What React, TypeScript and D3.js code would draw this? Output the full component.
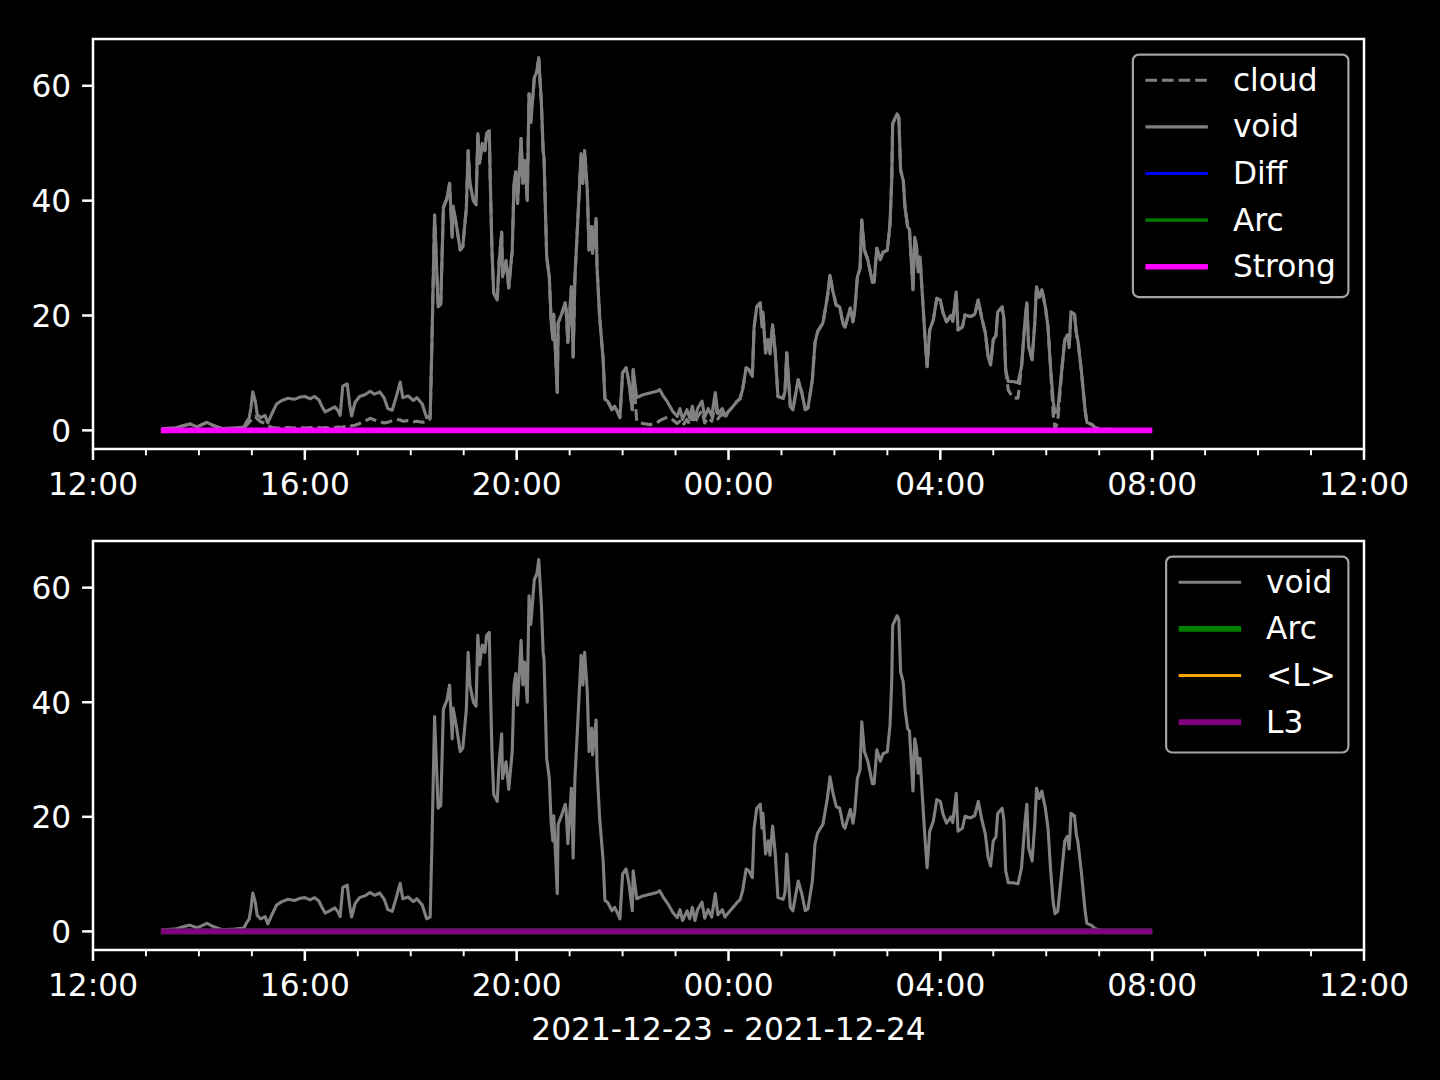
import { useEffect, useRef } from 'react'
import * as d3 from 'd3'

const WIDTH = 1440
const HEIGHT = 1080
const FONT = '"DejaVu Sans", sans-serif'
const FS = 31.25
const LEFT = 93
const RIGHT = 1364
const TICK_MAJOR = 10.9
const TICK_MINOR = 6.25
const PAD = 10.9

const START = Date.UTC(2021, 11, 23, 12)
const X_DOMAIN = [new Date(START), new Date(START + 24 * 3600e3)]
const X_LABEL = '2021-12-23 - 2021-12-24'
const Y_TICKS = [0, 20, 40, 60]

// minutes after 2021-12-23 12:00
const MINUTES = [
  80, 93, 102, 110, 118, 129, 137, 146, 161, 171, 174, 177, 179, 181, 184, 186, 190, 195, 198, 203,
  208, 214, 221, 228, 235, 240, 246, 251, 256, 259, 263, 268, 274, 278, 280, 283, 288, 291, 293, 297,
  302, 308, 314, 319, 325, 330, 334, 339, 344, 348, 351, 357, 363, 367, 373, 378, 382, 384, 387, 391,
  394, 397, 401, 404, 407, 408, 412, 416, 419, 423, 425, 427, 431, 434, 436, 438, 441, 444, 446, 449,
  450, 452, 454, 458, 460, 463, 464, 468, 471, 475, 477, 479, 481, 485, 487, 489, 492, 494, 496, 500,
  503, 505, 508, 510, 511, 514, 517, 519, 521, 522, 526, 527, 531, 535, 536, 538, 542, 544, 546, 548,
  553, 555, 557, 560, 562, 565, 566, 570, 571, 574, 578, 580, 583, 588, 591, 594, 597, 600, 604, 607,
  611, 612, 616, 623, 631, 639, 642, 646, 651, 657, 662, 665, 668, 673, 676, 679, 682, 685, 690, 693,
  697, 701, 705, 708, 713, 716, 719, 724, 730, 733, 736, 740, 743, 747, 749, 752, 756, 758, 759, 762,
  765, 767, 770, 773, 776, 782, 784, 786, 790, 793, 795, 799, 803, 807, 810, 815, 818, 821, 827, 832,
  835, 838, 842, 846, 850, 852, 858, 861, 863, 866, 869, 871, 874, 878, 883, 885, 888, 892, 895, 900,
  903, 905, 906, 911, 913, 915, 918, 920, 923, 925, 929, 931, 933, 935, 937, 940, 943, 945, 948, 952,
  956, 960, 963, 967, 972, 974, 978, 980, 985, 988, 994, 999, 1003, 1007, 1011, 1014, 1017, 1020, 1023, 1025,
  1030, 1032, 1034, 1037, 1042, 1048, 1052, 1056, 1058, 1060, 1064, 1067, 1069, 1072, 1075, 1079, 1082, 1085, 1088, 1090,
  1093, 1098, 1101, 1104, 1106, 1108, 1112, 1114, 1116, 1120, 1124, 1126, 1132, 1135, 1141, 1197,
]

const VOID = [
  0.3, 0.4, 0.8, 1.1, 0.6, 1.4, 0.8, 0.3, 0.4, 0.6, 1.5, 2.2, 4.0, 6.7, 5.0, 2.8, 2.2, 2.6, 1.3, 3.0,
  4.6, 5.2, 5.6, 5.4, 5.8, 5.9, 5.5, 5.9, 5.3, 4.3, 3.2, 3.6, 4.1, 3.3, 2.6, 7.7, 8.1, 4.3, 2.5, 4.9,
  5.9, 6.2, 6.8, 6.3, 6.7, 5.6, 3.8, 3.5, 6.1, 8.4, 5.7, 6.0, 5.2, 5.7, 4.6, 2.2, 2.5, 15.3, 37.5, 21.5,
  22.0, 38.8, 40.4, 43.0, 33.6, 39.0, 35.5, 31.4, 32.0, 38.8, 48.7, 43.0, 40.0, 39.3, 51.7, 46.5, 50.0, 48.7, 51.7, 52.2,
  44.0, 31.4, 23.9, 22.7, 29.1, 34.5, 26.7, 29.6, 24.8, 31.4, 43.0, 45.0, 39.5, 50.8, 43.0, 47.0, 40.0, 58.6, 53.6, 61.4,
  62.5, 64.9, 57.0, 48.7, 47.5, 30.2, 26.7, 19.2, 15.8, 20.2, 6.6, 18.7, 20.3, 22.2, 21.2, 15.3, 25.0, 12.8, 26.7, 32.6,
  48.2, 43.0, 48.7, 41.9, 31.4, 35.5, 30.8, 36.9, 28.6, 19.8, 12.3, 5.4, 5.1, 3.6, 4.2, 3.3, 2.2, 10.0, 10.9, 8.6,
  3.6, 10.6, 5.7, 6.2, 6.5, 6.8, 7.1, 6.0, 4.9, 3.3, 2.4, 3.8, 1.9, 3.6, 2.2, 4.2, 1.9, 3.8, 5.1, 2.3,
  3.8, 2.5, 6.6, 2.9, 3.8, 2.5, 3.1, 4.0, 5.1, 5.5, 7.1, 10.9, 10.6, 9.4, 18.0, 21.5, 22.2, 18.0, 20.6, 13.5,
  15.8, 13.3, 18.4, 13.5, 5.9, 5.6, 6.8, 13.5, 4.2, 3.6, 5.4, 8.8, 6.6, 3.6, 3.9, 8.8, 15.3, 17.2, 18.7, 23.2,
  27.0, 24.4, 21.8, 21.5, 18.4, 18.0, 21.3, 18.9, 20.8, 26.7, 28.2, 36.6, 31.4, 29.6, 25.8, 25.8, 31.7, 29.7, 31.0, 31.4,
  36.0, 44.0, 53.4, 55.1, 54.4, 45.3, 43.5, 38.8, 35.4, 35.0, 24.5, 33.6, 32.0, 27.6, 30.2, 22.7, 15.3, 11.1, 17.5, 19.2,
  23.0, 22.7, 20.5, 18.9, 20.0, 19.0, 24.1, 17.5, 18.0, 20.1, 19.8, 20.2, 22.7, 19.5, 17.0, 13.0, 11.4, 15.8, 16.5, 20.6,
  21.5, 19.5, 10.6, 8.5, 8.5, 8.3, 11.1, 19.2, 22.2, 14.6, 12.3, 18.7, 25.0, 23.2, 24.5, 21.5, 18.0, 10.6, 4.9, 3.1,
  3.5, 11.1, 15.8, 16.6, 14.4, 20.6, 20.2, 17.0, 15.5, 10.0, 3.6, 1.4, 1.0, 0.5, 0.2, 0.0,
]

const CLOUD = [
  0.3, 0.4, 0.8, 1.1, 0.6, 1.4, 0.8, 0.3, 0.4, 0.5, 0.9, 1.4, 1.8, 2.2, 2.4, 2.0, 1.5, 1.2, 0.8, 0.5,
  0.4, 0.4, 0.5, 0.4, 0.5, 0.4, 0.5, 0.4, 0.5, 0.4, 0.5, 0.4, 0.5, 0.6, 0.5, 0.6, 0.7, 0.6, 0.8, 0.9,
  1.2, 1.6, 2.1, 1.8, 1.5, 1.3, 1.4, 1.7, 1.9, 1.8, 1.6, 1.7, 1.5, 1.6, 1.4, 1.5, 2.0, 15.3, 37.5, 21.5,
  22.0, 38.8, 40.4, 43.0, 33.6, 39.0, 35.5, 31.4, 32.0, 38.8, 48.7, 43.0, 40.0, 39.3, 51.7, 46.5, 50.0, 48.7, 51.7, 52.2,
  44.0, 31.4, 23.9, 22.7, 29.1, 34.5, 26.7, 29.6, 24.8, 31.4, 43.0, 45.0, 39.5, 50.8, 43.0, 47.0, 40.0, 58.6, 53.6, 61.4,
  62.5, 64.9, 57.0, 48.7, 47.5, 30.2, 26.7, 19.2, 15.8, 20.2, 6.6, 18.7, 20.3, 22.2, 21.2, 15.3, 25.0, 12.8, 26.7, 32.6,
  48.2, 43.0, 48.7, 41.9, 31.4, 35.5, 30.8, 36.9, 28.6, 19.8, 12.3, 5.4, 5.1, 3.6, 4.2, 3.3, 2.2, 10.0, 10.9, 8.6,
  3.6, 10.6, 1.6, 1.2, 1.0, 1.3, 1.7, 2.0, 2.3, 1.8, 1.2, 1.6, 0.8, 1.9, 1.0, 2.6, 1.2, 2.4, 3.4, 1.3,
  2.2, 1.6, 4.5, 2.0, 3.0, 2.0, 3.1, 4.0, 5.1, 5.5, 7.1, 10.9, 10.6, 9.4, 18.0, 21.5, 22.2, 18.0, 20.6, 13.5,
  15.8, 13.3, 18.4, 13.5, 5.9, 5.6, 6.8, 13.5, 4.2, 3.6, 5.4, 8.8, 6.6, 3.6, 3.9, 8.8, 15.3, 17.2, 18.7, 23.2,
  27.0, 24.4, 21.8, 21.5, 18.4, 18.0, 21.3, 18.9, 20.8, 26.7, 28.2, 36.6, 31.4, 29.6, 25.8, 25.8, 31.7, 29.7, 31.0, 31.4,
  36.0, 44.0, 53.4, 55.1, 54.4, 45.3, 43.5, 38.8, 35.4, 35.0, 24.5, 33.6, 32.0, 27.6, 30.2, 22.7, 15.3, 11.1, 17.5, 19.2,
  23.0, 22.7, 20.5, 18.9, 20.0, 19.0, 24.1, 17.5, 18.0, 20.1, 19.8, 20.2, 22.7, 19.5, 17.0, 13.0, 11.4, 15.8, 16.5, 20.6,
  21.5, 19.5, 10.6, 7.0, 5.7, 5.6, 11.1, 19.2, 22.2, 14.6, 12.3, 18.7, 25.0, 23.2, 24.5, 21.5, 18.0, 10.6, 2.5, 0.3,
  1.5, 11.1, 15.8, 16.6, 14.4, 20.6, 20.2, 17.0, 15.5, 10.0, 3.6, 1.4, 1.0, 0.5, 0.2, 0.0,
]

// flat series (start / end of the run)
const FLAT_MINUTES = [80, 1197]
const DIFF = [0, 0]
const ARC = [0, 0]
const STRONG = [0, 0]
const MEAN_L = [0, 0]
const L3 = [0, 0]

type Series = {
  label: string
  minutes: number[]
  values: number[]
  color: string
  width: number
  dash?: string
}

const THIN = 3.1
const THICK = 5.6

const TOP_SERIES: Series[] = [
  { label: 'cloud', minutes: MINUTES, values: CLOUD, color: '#808080', width: THIN, dash: '11.6,5' },
  { label: 'void', minutes: MINUTES, values: VOID, color: '#808080', width: THIN },
  { label: 'Diff', minutes: FLAT_MINUTES, values: DIFF, color: '#0000ff', width: THIN },
  { label: 'Arc', minutes: FLAT_MINUTES, values: ARC, color: '#008000', width: THIN },
  { label: 'Strong', minutes: FLAT_MINUTES, values: STRONG, color: '#ff00ff', width: THICK },
]

const BOTTOM_SERIES: Series[] = [
  { label: 'void', minutes: MINUTES, values: VOID, color: '#808080', width: THIN },
  { label: 'Arc', minutes: FLAT_MINUTES, values: ARC, color: '#008000', width: THICK },
  { label: '<L>', minutes: FLAT_MINUTES, values: MEAN_L, color: '#ffa500', width: THIN },
  { label: 'L3', minutes: FLAT_MINUTES, values: L3, color: '#800080', width: THICK },
]

const PANELS = [
  { top: 39, bottom: 449, series: TOP_SERIES },
  { top: 541, bottom: 950, series: BOTTOM_SERIES },
]

function measure(text: string) {
  const ctx = document.createElement('canvas').getContext('2d')
  if (!ctx) return text.length * FS * 0.6
  ctx.font = `${FS}px "DejaVu Sans"`
  return ctx.measureText(text).width
}

function App() {
  const svgRef = useRef<SVGSVGElement>(null)

  useEffect(() => {
    const svg = d3.select(svgRef.current)
    svg.selectAll('*').remove()
    document.body.style.background = '#000'

    svg.append('rect').attr('width', WIDTH).attr('height', HEIGHT).attr('fill', '#000')

    const x = d3.scaleUtc().domain(X_DOMAIN).range([LEFT, RIGHT])
    const toDate = (m: number) => new Date(START + m * 60000)

    const allValues = PANELS.flatMap((p) => p.series.flatMap((s) => s.values))
    const [lo, hi] = d3.extent(allValues) as [number, number]
    const margin = (hi - lo) * 0.05
    const yDomain = [lo - margin, hi + margin]

    const majorTicks = x.ticks(d3.utcHour.every(4)!)
    const minorTicks = x.ticks(d3.utcHour.every(1)!).filter((d) => d.getUTCHours() % 4 !== 0)
    const fmt = d3.utcFormat('%H:%M')

    PANELS.forEach((panel, pi) => {
      const y = d3.scaleLinear().domain(yDomain).range([panel.bottom, panel.top])
      const g = svg.append('g')

      const clipId = `clip-${pi}`
      svg
        .append('clipPath')
        .attr('id', clipId)
        .append('rect')
        .attr('x', LEFT)
        .attr('y', panel.top)
        .attr('width', RIGHT - LEFT)
        .attr('height', panel.bottom - panel.top)

      const lines = g.append('g').attr('clip-path', `url(#${clipId})`)
      panel.series.forEach((s) => {
        const pts = s.minutes.map((m, i) => [m, s.values[i]] as [number, number])
        const line = d3
          .line<[number, number]>()
          .x((d) => x(toDate(d[0])))
          .y((d) => y(d[1]))
        lines
          .append('path')
          .attr('d', line(pts) ?? '')
          .attr('fill', 'none')
          .attr('stroke', s.color)
          .attr('stroke-width', s.width)
          .attr('stroke-linejoin', 'round')
          .attr('stroke-linecap', s.dash ? 'butt' : 'square')
          .attr('stroke-dasharray', s.dash ?? null)
      })

      // spines
      g.append('rect')
        .attr('x', LEFT)
        .attr('y', panel.top)
        .attr('width', RIGHT - LEFT)
        .attr('height', panel.bottom - panel.top)
        .attr('fill', 'none')
        .attr('stroke', '#fff')
        .attr('stroke-width', 2.5)

      // x ticks
      majorTicks.forEach((t) => {
        const tx = x(t)
        g.append('line')
          .attr('x1', tx).attr('x2', tx)
          .attr('y1', panel.bottom).attr('y2', panel.bottom + TICK_MAJOR)
          .attr('stroke', '#fff').attr('stroke-width', 2.5)
        g.append('text')
          .attr('x', tx)
          .attr('y', panel.bottom + 46)
          .attr('text-anchor', 'middle')
          .attr('fill', '#fff')
          .attr('font-family', FONT)
          .attr('font-size', FS)
          .text(fmt(t))
      })
      minorTicks.forEach((t) => {
        const tx = x(t)
        g.append('line')
          .attr('x1', tx).attr('x2', tx)
          .attr('y1', panel.bottom).attr('y2', panel.bottom + TICK_MINOR)
          .attr('stroke', '#fff').attr('stroke-width', 1.9)
      })

      // y ticks
      Y_TICKS.forEach((v) => {
        const ty = y(v)
        g.append('line')
          .attr('x1', LEFT - TICK_MAJOR).attr('x2', LEFT)
          .attr('y1', ty).attr('y2', ty)
          .attr('stroke', '#fff').attr('stroke-width', 2.5)
        g.append('text')
          .attr('x', LEFT - TICK_MAJOR - PAD)
          .attr('y', ty + 11.4)
          .attr('text-anchor', 'end')
          .attr('fill', '#fff')
          .attr('font-family', FONT)
          .attr('font-size', FS)
          .text(String(v))
      })

      // legend
      const textW = d3.max(panel.series, (s) => measure(s.label)) ?? 0
      const boxW = 12.5 + 62.5 + 25 + textW + 12.5
      const boxRight = RIGHT - 15.6
      const boxLeft = boxRight - boxW
      const boxTop = panel.top + 15.6
      const rowH = 46.6
      const boxH = panel.series.length * rowH + 9.5
      const lg = g.append('g')
      lg.append('rect')
        .attr('x', boxLeft)
        .attr('y', boxTop)
        .attr('width', boxW)
        .attr('height', boxH)
        .attr('rx', 6)
        .attr('fill', 'rgba(0,0,0,0.8)')
        .attr('stroke', '#a3a3a3')
        .attr('stroke-width', 2.2)
      panel.series.forEach((s, i) => {
        const hy = boxTop + 25.7 + i * rowH
        const hx = boxLeft + 12.5
        lg.append('line')
          .attr('x1', hx + (s.dash ? 0 : s.width / 2))
          .attr('x2', hx + 62.5 - (s.dash ? 0 : s.width / 2))
          .attr('y1', hy).attr('y2', hy)
          .attr('stroke', s.color)
          .attr('stroke-width', s.width)
          .attr('stroke-linecap', s.dash ? 'butt' : 'square')
          .attr('stroke-dasharray', s.dash ?? null)
        lg.append('text')
          .attr('x', hx + 62.5 + 25)
          .attr('y', hy + 10.5)
          .attr('fill', '#fff')
          .attr('font-family', FONT)
          .attr('font-size', FS)
          .text(s.label)
      })
    })

    svg.append('text')
      .attr('x', (LEFT + RIGHT) / 2)
      .attr('y', 1040)
      .attr('text-anchor', 'middle')
      .attr('fill', '#fff')
      .attr('font-family', FONT)
      .attr('font-size', FS)
      .text(X_LABEL)
  }, [])

  return (
    <svg
      ref={svgRef}
      width={WIDTH}
      height={HEIGHT}
      style={{ position: 'absolute', left: 0, top: 0, display: 'block' }}
    />
  )
}

export default App
